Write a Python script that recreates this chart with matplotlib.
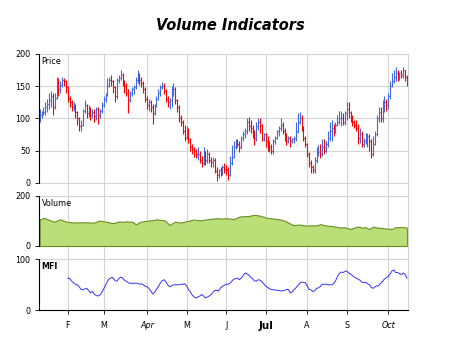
import numpy as np
import matplotlib
matplotlib.use('Agg')
import matplotlib.pyplot as plt

# daily bars, open = previous close
first_open = 100
close = [105, 108, 110, 118, 122, 128, 135, 118, 132, 148,
         145, 152, 160, 158, 148, 130, 125, 118, 120, 110,
         100, 88, 90, 112, 120, 108, 115, 105, 110, 103,
         115, 105, 112, 120, 130, 135, 150, 160, 158, 148,
         135, 160, 163, 168, 155, 150, 140, 128, 140, 145,
         148, 160, 166, 160, 155, 145, 130, 120, 125, 118,
         108, 120, 130, 140, 148, 150, 142, 130, 125, 128,
         140, 145, 128, 118, 100, 95, 80, 70, 82, 68,
         55, 52, 50, 45, 45, 35, 30, 45, 35, 45,
         35, 32, 35, 18, 12, 20, 18, 25, 22, 20,
         12, 30, 40, 55, 65, 60, 55, 70, 75, 80,
         95, 88, 85, 80, 70, 88, 95, 90, 68, 75,
         65, 60, 55, 50, 65, 70, 80, 85, 90, 80,
         72, 65, 70, 65, 68, 70, 80, 95, 100, 85,
         70, 60, 45, 30, 25, 20, 35, 45, 48, 45,
         55, 50, 60, 70, 80, 85, 80, 90, 95, 100,
         100, 95, 108, 115, 110, 100, 95, 90, 85, 70,
         75, 60, 65, 70, 72, 65, 45, 60, 75, 100,
         110, 100, 115, 125, 120, 135, 150, 158, 165, 170,
         165, 170, 168, 175, 165, 155]
high = [115, 112, 118, 125, 130, 140, 142, 140, 140, 165,
        162, 158, 165, 163, 160, 150, 135, 128, 125, 122,
        112, 102, 98, 115, 128, 122, 120, 118, 115, 115,
        118, 118, 115, 125, 135, 140, 162, 165, 168, 160,
        150, 162, 168, 175, 170, 160, 155, 145, 142, 148,
        152, 165, 175, 170, 165, 158, 148, 135, 130, 128,
        122, 122, 135, 145, 152, 156, 155, 145, 135, 132,
        150, 155, 148, 130, 120, 105, 98, 90, 88, 85,
        70, 60, 55, 52, 55, 50, 42, 55, 50, 52,
        48, 40, 40, 38, 25, 22, 25, 28, 30, 28,
        25, 42, 58, 65, 68, 68, 65, 72, 80, 85,
        100, 102, 98, 90, 82, 95, 100, 100, 92, 78,
        78, 72, 65, 60, 68, 72, 82, 88, 100, 95,
        85, 78, 72, 72, 70, 72, 95, 108, 110, 105,
        88, 72, 62, 48, 35, 28, 40, 55, 58, 60,
        68, 68, 65, 80, 95, 98, 92, 95, 105, 112,
        112, 108, 112, 125, 125, 112, 105, 98, 98, 92,
        85, 80, 70, 78, 78, 75, 68, 72, 80, 105,
        118, 118, 128, 135, 130, 140, 158, 170, 175, 180,
        175, 172, 175, 180, 175, 168]
low = [95, 100, 105, 105, 110, 115, 118, 105, 115, 130,
       135, 140, 148, 150, 140, 125, 118, 112, 112, 100,
       90, 80, 80, 88, 108, 100, 102, 98, 100, 95,
       98, 92, 100, 108, 118, 125, 135, 148, 150, 140,
       125, 130, 155, 160, 150, 140, 135, 108, 125, 135,
       138, 145, 155, 152, 148, 140, 125, 115, 112, 110,
       92, 105, 118, 128, 135, 145, 138, 125, 118, 115,
       118, 135, 122, 110, 95, 88, 75, 65, 68, 62,
       50, 45, 40, 38, 35, 30, 25, 28, 28, 30,
       30, 25, 25, 15, 2, 8, 10, 12, 15, 12,
       5, 10, 28, 38, 52, 55, 48, 52, 65, 70,
       75, 80, 78, 70, 58, 65, 82, 78, 65, 65,
       55, 50, 48, 45, 45, 60, 68, 72, 80, 75,
       65, 58, 62, 55, 62, 62, 65, 78, 92, 80,
       65, 55, 40, 25, 15, 15, 15, 30, 42, 38,
       42, 45, 48, 55, 65, 65, 72, 78, 88, 92,
       88, 90, 90, 98, 100, 95, 88, 85, 80, 60,
       62, 55, 55, 60, 55, 50, 38, 42, 58, 72,
       95, 95, 95, 110, 112, 115, 130, 148, 155, 158,
       158, 160, 162, 162, 158, 150]
volume = [106, 108, 112, 110, 107, 104, 101, 98, 97, 100,
          104, 106, 103, 100, 97, 96, 95, 94, 93, 94,
          94, 94, 94, 94, 94, 94, 94, 93, 93, 93,
          96, 99, 101, 100, 98, 97, 95, 94, 92, 91,
          93, 95, 97, 97, 96, 97, 98, 97, 97, 97,
          92, 86, 90, 95, 97, 98, 99, 100, 101, 102,
          103, 104, 106, 105, 104, 103, 102, 98, 90, 83,
          88, 93, 97, 95, 94, 93, 95, 97, 99, 100,
          102, 104, 105, 104, 103, 102, 103, 104, 105, 106,
          107, 108, 109, 110, 110, 110, 109, 109, 110, 110,
          110, 109, 108, 107, 110, 113, 117, 118, 118, 119,
          119, 119, 121, 123, 124, 123, 122, 120, 118, 116,
          113, 112, 111, 110, 109, 108, 107, 106, 105, 103,
          100, 97, 93, 89, 85, 83, 84, 85, 85, 84,
          83, 81, 81, 82, 82, 82, 82, 82, 84, 87,
          85, 83, 82, 81, 80, 79, 78, 77, 76, 74,
          74, 74, 74, 72, 70, 68, 70, 73, 76, 77,
          75, 73, 74, 75, 70, 68, 72, 77, 75, 73,
          73, 72, 71, 70, 69, 69, 68, 68, 71, 75,
          75, 75, 75, 75, 74, 72]
mfi_start = 15
mfi = [63, 62, 57, 54, 51, 50, 46, 41, 40, 42,
       43, 39, 34, 37, 32, 29, 28, 30, 35, 42,
       49, 57, 62, 64, 64, 58, 57, 62, 65, 63,
       59, 57, 54, 53, 53, 53, 53, 53, 51, 52,
       50, 47, 46, 43, 38, 32, 35, 41, 47, 53,
       58, 60, 56, 50, 46, 48, 50, 50, 50, 50,
       51, 51, 52, 48, 41, 36, 30, 26, 24, 26,
       28, 31, 28, 24, 26, 28, 31, 35, 39, 39,
       38, 44, 47, 49, 51, 51, 53, 57, 61, 62,
       63, 60, 63, 68, 73, 72, 69, 65, 62, 58,
       57, 60, 59, 56, 52, 47, 45, 42, 41, 40,
       40, 39, 39, 38, 38, 39, 41, 41, 34, 36,
       40, 44, 48, 53, 55, 55, 54, 48, 41, 40,
       37, 38, 43, 44, 47, 51, 51, 51, 50, 50,
       50, 52, 57, 66, 72, 75, 74, 76, 77, 73,
       71, 68, 65, 63, 61, 59, 55, 54, 55, 52,
       50, 45, 43, 46, 48, 48, 53, 57, 61, 64,
       66, 71, 77, 79, 74, 74, 72, 70, 73, 70,
       63]
month_pos = [15, 34, 57, 78, 99, 120, 142, 163, 185]
month_lbl = ['F', 'M', 'Apr', 'M', 'J', 'Jul', 'A', 'S', 'Oct']

n = len(close)
x = np.arange(n)
close = np.array(close, float)
opn = np.concatenate([[first_open], close[:-1]])
cols = np.where(close >= opn, '#4169e1', '#ff0000')

grid_c = '#d4d4d4'
fs = 5.8

fig = plt.figure(figsize=(4.6, 3.45), dpi=100)
L, W = 0.0841, 0.8028
ax1 = fig.add_axes([L, 0.4493, W, 0.3942])
ax2 = fig.add_axes([L, 0.2754, W, 0.1739], sharex=ax1)
ax3 = fig.add_axes([L, 0.1006, W, 0.1748], sharex=ax1)

fig.text(0.5, 0.927, 'Volume Indicators', ha='center', va='center',
         fontsize=10.5, fontweight='bold', style='italic')

# price
ax1.vlines(x, low, high, colors=cols, lw=0.8)
ax1.hlines(opn, x - 0.45, x, colors=cols, lw=0.8)
ax1.hlines(close, x, x + 0.45, colors=cols, lw=0.8)
ax1.set_ylim(-11.3, 200)
ax1.set_yticks([0, 50, 100, 150, 200])

# volume
ax2.fill_between(x, volume, 0, facecolor='#bade78', edgecolor='#6b8e23', lw=0.8)
ax2.set_ylim(-15.9, 222.7)
ax2.set_yticks([0, 200])

# MFI
ax3.plot(x[mfi_start:mfi_start + len(mfi)], mfi, color='#3333ff', lw=0.7)
ax3.set_ylim(0, 118.2)
ax3.set_yticks([0, 100])

ax1.set_xlim(-0.5, n - 0.5)
ax3.set_xticks(month_pos)
ax3.set_xticklabels(month_lbl)

for ax, top, name, bold in [(ax1, 200, 'Price', False), (ax2, 200, 'Volume', False), (ax3, 100, 'MFI', True)]:
    ax.set_axisbelow(True)
    ax.grid(True, color=grid_c, lw=0.8)
    ax.spines['top'].set_visible(False)
    ax.spines['bottom'].set_visible(False)
    ax.spines['right'].set_color(grid_c)
    ax.spines['left'].set_bounds(0, top)
    ax.spines['left'].set_linewidth(0.8)
    ax.tick_params(axis='y', length=3, width=0.6, pad=3, labelsize=fs)
    ax.tick_params(axis='x', length=0, labelbottom=False)
    ax.annotate(name, xy=(0, top), xycoords=('axes fraction', 'data'),
                xytext=(3, -3), textcoords='offset pixels', va='top', ha='left',
                fontsize=fs, fontweight='bold' if bold else 'normal')

ax3.spines['bottom'].set_visible(True)
ax3.spines['bottom'].set_linewidth(0.8)
ax3.tick_params(axis='x', length=3, width=0.6, pad=5, labelbottom=True, labelsize=fs)
for t in ax3.get_xticklabels():
    if t.get_text() in ('Apr', 'Oct'):
        t.set_style('italic')
    if t.get_text() == 'Jul':
        t.set_fontweight('bold')
        t.set_fontsize(7.5)

fig.savefig('out.png', dpi=100)
